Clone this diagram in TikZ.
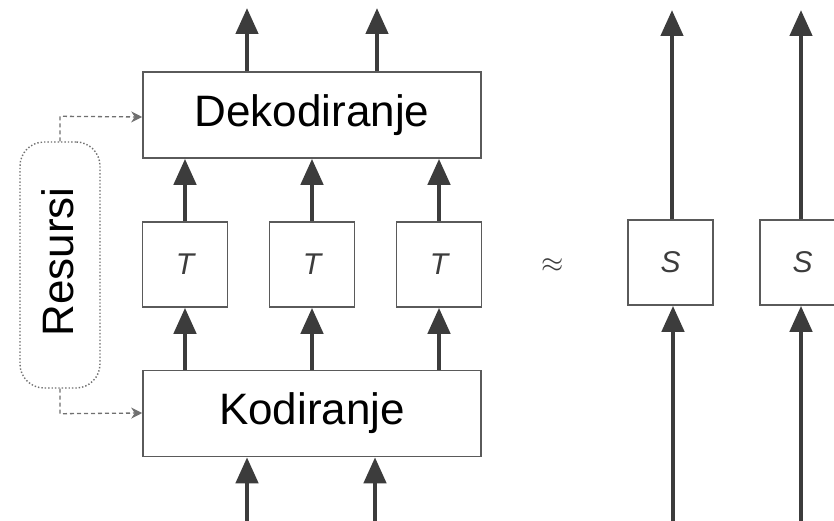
\documentclass[tikz,border=0pt]{standalone}
\usepackage{fontspec}
\setmainfont{Liberation Sans}
\usetikzlibrary{arrows.meta}
\definecolor{arr}{HTML}{3C3C3C}
\definecolor{boxc}{HTML}{5A5A5A}
\definecolor{dash}{HTML}{707070}
\begin{document}
\begin{tikzpicture}[x=1pt,y=-1pt,
  bigbox/.style={draw=boxc,line width=1.6pt,minimum width=338pt,minimum height=86pt,inner sep=0pt,font=\fontsize{44}{48}\selectfont},
  smallbox/.style={draw=boxc,line width=1.6pt,minimum width=85pt,minimum height=85pt,inner sep=0pt,font=\fontsize{30}{32}\selectfont\itshape},
  flow/.style={draw=arr,line width=4.5pt,-{Triangle[length=26pt,width=22pt]}},
  dflow/.style={draw=dash,line width=1.3pt,dash pattern=on 4pt off 3pt,-{Stealth[length=11pt,width=11pt]}}]
\useasboundingbox (0,0) rectangle (834,521);
\fill[white] (0,0) rectangle (834,521);
% main boxes
\node[bigbox] (dek) at (312,115) {Dekodiranje};
\node[bigbox] (kod) at (312,413.5) {Kodiranje};
\node[smallbox,text=arr] (t1) at (185,264.5) {T};
\node[smallbox,text=arr] (t2) at (312,264.5) {T};
\node[smallbox,text=arr] (t3) at (439,264.5) {T};
\node[smallbox,text=arr] (s1) at (670.5,262.5) {S};
\node[smallbox,text=arr] (s2) at (802.5,262.5) {S};
\node[text=arr,font=\fontsize{24}{26}\selectfont,scale=1.15] (approx) at (553,266) {$\approx$};
% resources box
\node[draw=dash,line width=1.4pt,dotted,rounded corners=24pt,minimum width=80pt,minimum height=246pt,inner sep=0pt] (res) at (60,265) {};
\node[rotate=90,font=\fontsize{44}{48}\selectfont] (restext) at (58,262) {Resursi};
% coordinates for free ends
\coordinate (in1) at (247,521);
\coordinate (in2) at (375,521);
\coordinate (out1) at (247,8);
\coordinate (out2) at (377,8);
\coordinate (sin1) at (673,521);
\coordinate (sin2) at (801,521);
\coordinate (sout1) at (672,10);
\coordinate (sout2) at (801,10);
% arrows
\draw[flow] (in1) -- (in1 |- kod.south);
\draw[flow] (in2) -- (in2 |- kod.south);
\draw[flow] (kod.north -| t1) -- (t1.south);
\draw[flow] (kod.north) -- (t2.south);
\draw[flow] (kod.north -| t3) -- (t3.south);
\draw[flow] (t1.north) -- (t1.north |- dek.south);
\draw[flow] (t2.north) -- (dek.south);
\draw[flow] (t3.north) -- (t3.north |- dek.south);
\draw[flow] (out1 |- dek.north) -- (out1);
\draw[flow] (out2 |- dek.north) -- (out2);
\draw[flow] (sin1) -- (sin1 |- s1.south);
\draw[flow] (sin2) -- (sin2 |- s2.south);
\draw[flow] (s1.north -| sout1) -- (sout1);
\draw[flow] (s2.north -| sout2) -- (sout2);
% dashed resource arrows
\draw[dflow] (res.north) -- ++(0,-25) -- (dek.west |- 0,117);
\draw[dflow] (res.south) -- ++(0,25) -- (kod.west |- 0,413);
\end{tikzpicture}
\end{document}
